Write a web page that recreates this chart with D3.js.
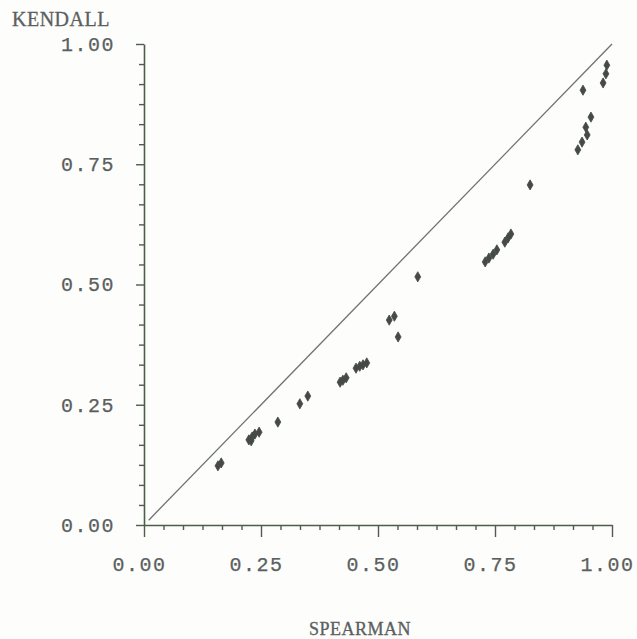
<!DOCTYPE html>
<html>
<head>
<meta charset="utf-8">
<script src="https://cdn.jsdelivr.net/npm/d3@7"></script>
<style>
  html, body { margin: 0; padding: 0; background: #fdfdfb; }
  svg { display: block; }
</style>
</head>
<body>
<svg id="chart" width="637" height="639"></svg>
<script>
// Rank correlation pairs: Spearman's rho (x) against Kendall's tau (y)
const spearman = [
  0.158, 0.165,
  0.224, 0.231, 0.237, 0.246, 0.229,
  0.286, 0.333, 0.350,
  0.419, 0.425, 0.432,
  0.453, 0.461, 0.468, 0.476,
  0.524, 0.535, 0.543,
  0.585,
  0.729, 0.737, 0.746, 0.754, 0.771, 0.778, 0.784,
  0.825,
  0.927, 0.936, 0.947, 0.944, 0.955, 0.938, 0.981, 0.987, 0.989
];
const kendall = [
  0.123, 0.129,
  0.177, 0.183, 0.189, 0.193, 0.175,
  0.214, 0.252, 0.268,
  0.297, 0.301, 0.306,
  0.326, 0.330, 0.333, 0.337,
  0.426, 0.434, 0.391,
  0.516,
  0.547, 0.555, 0.563, 0.572, 0.588, 0.597, 0.605,
  0.707,
  0.780, 0.796, 0.811, 0.827, 0.848, 0.904, 0.919, 0.938, 0.956
];
const majorTicks = [0, 0.25, 0.5, 0.75, 1];
const minorTicks = d3.range(0, 25).map(i => i / 24).filter(v => Math.abs(v * 4 - Math.round(v * 4)) > 1e-9);
const xTitle = "SPEARMAN";
const yTitle = "KENDALL";

const svg = d3.select("#chart");
const plotLeft = 144, plotRight = 612, plotTop = 44, plotBottom = 525;

const x = d3.scaleLinear().domain([0, 1]).range([plotLeft, plotRight]);
const y = d3.scaleLinear().domain([0, 1]).range([plotBottom, plotTop]);

const axisColor = "#4e5e4a";
const textColor = "#5a6060";
const fmt = d3.format(".2f");

// minor ticks
svg.append("g").attr("transform", `translate(0,${plotBottom})`)
  .call(d3.axisBottom(x).tickValues(minorTicks).tickSize(5).tickFormat(""))
  .call(g => g.select(".domain").remove());
svg.append("g").attr("transform", `translate(${plotLeft},0)`)
  .call(d3.axisLeft(y).tickValues(minorTicks).tickSize(5).tickFormat(""))
  .call(g => g.select(".domain").remove());

// major ticks with labels
const xAxis = svg.append("g").attr("transform", `translate(0,${plotBottom})`)
  .call(d3.axisBottom(x).tickValues(majorTicks).tickSize(12).tickSizeOuter(0).tickPadding(20).tickFormat(fmt));
const yAxis = svg.append("g").attr("transform", `translate(${plotLeft},0)`)
  .call(d3.axisLeft(y).tickValues(majorTicks).tickSize(8).tickSizeOuter(0).tickPadding(21).tickFormat(fmt));

svg.selectAll(".tick line").attr("stroke", axisColor).attr("stroke-width", 1.4);
svg.selectAll(".domain").attr("stroke", axisColor).attr("stroke-width", 1.6);
svg.selectAll(".tick text")
  .attr("fill", textColor)
  .attr("stroke", textColor)
  .attr("stroke-width", 0.25)
  .style("font-family", "'Liberation Mono', 'DejaVu Sans Mono', monospace")
  .style("font-size", "20px")
  .style("letter-spacing", "1.5px");
xAxis.selectAll(".tick text").attr("dx", -5);

// reference line tau = rho
const diag = [0.01, 1];
svg.append("line")
  .attr("x1", x(diag[0])).attr("y1", y(diag[0]))
  .attr("x2", x(diag[1])).attr("y2", y(diag[1]))
  .attr("stroke", "#6e7270").attr("stroke-width", 1.3);

// points
const pts = spearman.map((s, i) => ({ s, k: kendall[i] }));
svg.append("g").selectAll("path").data(pts).join("path")
  .attr("transform", d => `translate(${x(d.s)},${y(d.k)})`)
  .attr("d", d3.symbol().type(d3.symbolDiamond).size(30))
  .attr("fill", "#454a48")
  .attr("stroke", "#454a48")
  .attr("stroke-width", 0.8);

// axis titles
svg.append("text").attr("x", 12).attr("y", 26)
  .attr("fill", textColor)
  .attr("stroke", textColor).attr("stroke-width", 0.3)
  .style("font-family", "'Liberation Serif', serif").style("font-size", "20px")
  .style("letter-spacing", "0.5px")
  .text(yTitle);
svg.append("text").attr("x", 360).attr("y", 635).attr("text-anchor", "middle")
  .attr("fill", textColor)
  .attr("stroke", textColor).attr("stroke-width", 0.3)
  .style("font-family", "'Liberation Serif', serif").style("font-size", "18px")
  .style("letter-spacing", "0.5px")
  .text(xTitle);
</script>
</body>
</html>
